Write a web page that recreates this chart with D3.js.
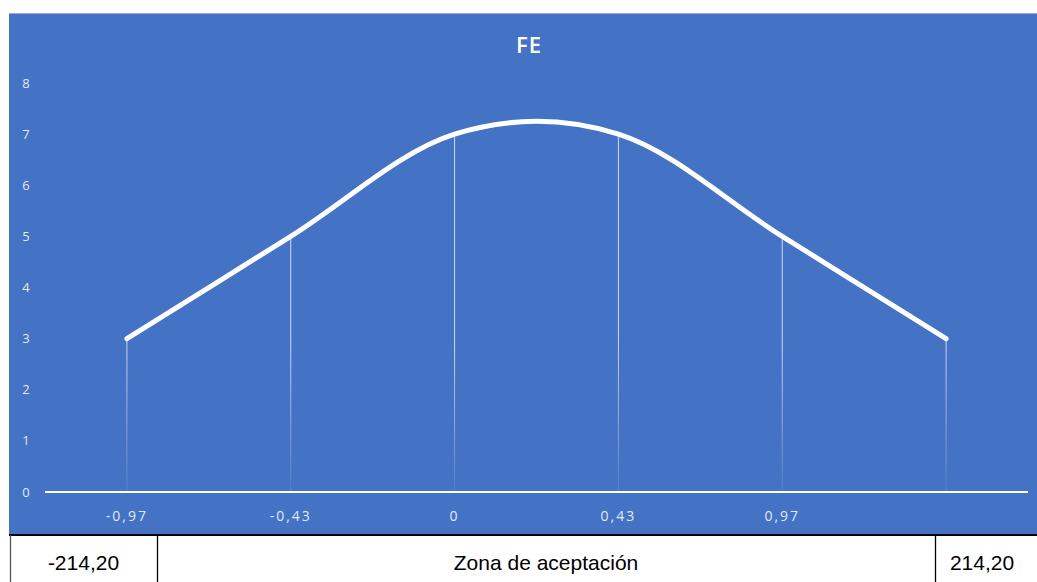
<!DOCTYPE html>
<html>
<head>
<meta charset="utf-8">
<script src="https://cdn.jsdelivr.net/npm/d3@7"></script>
<style>
  body { margin: 0; background: #fff; }
  svg { display: block; }
</style>
</head>
<body>
<svg id="chart" width="1037" height="582"></svg>
<script>
// chart data
var categories = ["-0,97", "-0,43", "0", "0,43", "0,97", ""];
var values = [3, 5, 7, 7, 5, 3];
var yTicks = [0, 1, 2, 3, 4, 5, 6, 7, 8];
var title = "FE";
var tableCells = ["-214,20", "Zona de aceptación", "214,20"];

var svg = d3.select("#chart"),
    width = +svg.attr("width"),
    height = +svg.attr("height");

var blue = "#4472c4";

// background panel
svg.append("rect")
    .attr("x", 9).attr("y", 13)
    .attr("width", width - 9).attr("height", 521)
    .attr("fill", blue);
svg.append("line")
    .attr("x1", 9).attr("x2", width)
    .attr("y1", 13.5).attr("y2", 13.5)
    .attr("stroke", "#9aaed6").attr("stroke-width", 1);

var x = d3.scalePoint()
    .domain(d3.range(categories.length))
    .range([45, 1028])
    .padding(0.5);

var y = d3.scaleLinear()
    .domain([0, 8])
    .range([492, 83]);

// fade for drop lines
var defs = svg.append("defs");
var grad = defs.append("linearGradient")
    .attr("id", "dropFade")
    .attr("gradientUnits", "userSpaceOnUse")
    .attr("x1", 0).attr("x2", 0)
    .attr("y1", y(3)).attr("y2", y(0));
grad.append("stop").attr("offset", 0).attr("stop-color", "#fff").attr("stop-opacity", 0.75);
grad.append("stop").attr("offset", 1).attr("stop-color", "#fff").attr("stop-opacity", 0.08);

// title
svg.append("text")
    .attr("x", 529).attr("y", 53)
    .attr("text-anchor", "middle")
    .attr("fill", "#fff")
    .style("font", "600 22px 'Open Sans', sans-serif")
    .style("letter-spacing", "1px")
    .text(title);

// y labels
svg.append("g")
    .selectAll("text")
    .data(yTicks)
    .enter().append("text")
      .attr("x", 26)
      .attr("y", function(d) { return y(d); })
      .attr("dy", "0.35em")
      .attr("text-anchor", "middle")
      .attr("fill", "#e3e9f5")
      .style("font", "13px 'Open Sans', sans-serif")
      .text(function(d) { return d; });

// drop lines
svg.append("g")
    .selectAll("line")
    .data(values)
    .enter().append("line")
      .attr("x1", function(d, i) { return x(i); })
      .attr("x2", function(d, i) { return x(i); })
      .attr("y1", function(d) { return y(d); })
      .attr("y2", y(0) - 1)
      .attr("stroke", "url(#dropFade)")
      .attr("stroke-width", 1);

// x axis line
svg.append("line")
    .attr("x1", 45).attr("x2", 1028)
    .attr("y1", y(0)).attr("y2", y(0))
    .attr("stroke", "#fff").attr("stroke-width", 2);

// x labels
svg.append("g")
    .selectAll("text")
    .data(categories)
    .enter().append("text")
      .attr("x", function(d, i) { return x(i); })
      .attr("y", 521)
      .attr("text-anchor", "middle")
      .attr("fill", "#e3e9f5")
      .style("font", "14px 'Open Sans', sans-serif")
      .style("letter-spacing", "2px")
      .text(function(d) { return d; });

// smoothed line
var line = d3.line()
    .x(function(d, i) { return x(i); })
    .y(function(d) { return y(d); })
    .curve(d3.curveCardinal.tension(0));

svg.append("path")
    .datum(values)
    .attr("d", line)
    .attr("fill", "none")
    .attr("stroke", "#fff")
    .attr("stroke-width", 5)
    .attr("stroke-linecap", "round")
    .attr("stroke-linejoin", "round");

// table row below the chart
var cols = [10, 157, 935, 1037];
var table = svg.append("g");
table.append("line")
    .attr("x1", 9).attr("x2", width)
    .attr("y1", 535).attr("y2", 535)
    .attr("stroke", "#000").attr("stroke-width", 2);
table.selectAll("line.div")
    .data(cols.slice(0, 3))
    .enter().append("line")
      .attr("class", "div")
      .attr("x1", function(d) { return d + 0.5; })
      .attr("x2", function(d) { return d + 0.5; })
      .attr("y1", 535).attr("y2", height)
      .attr("stroke", function(d, i) { return i === 0 ? "#555" : "#000"; })
      .attr("stroke-width", 1.3);
table.selectAll("text")
    .data(tableCells)
    .enter().append("text")
      .attr("x", function(d, i) { return (cols[i] + cols[i + 1]) / 2 + (i === 2 ? -4 : 0); })
      .attr("y", 570)
      .attr("text-anchor", "middle")
      .attr("fill", "#000")
      .style("font", "21px 'Liberation Sans', Arial, sans-serif")
      .text(function(d) { return d; });
</script>
</body>
</html>
